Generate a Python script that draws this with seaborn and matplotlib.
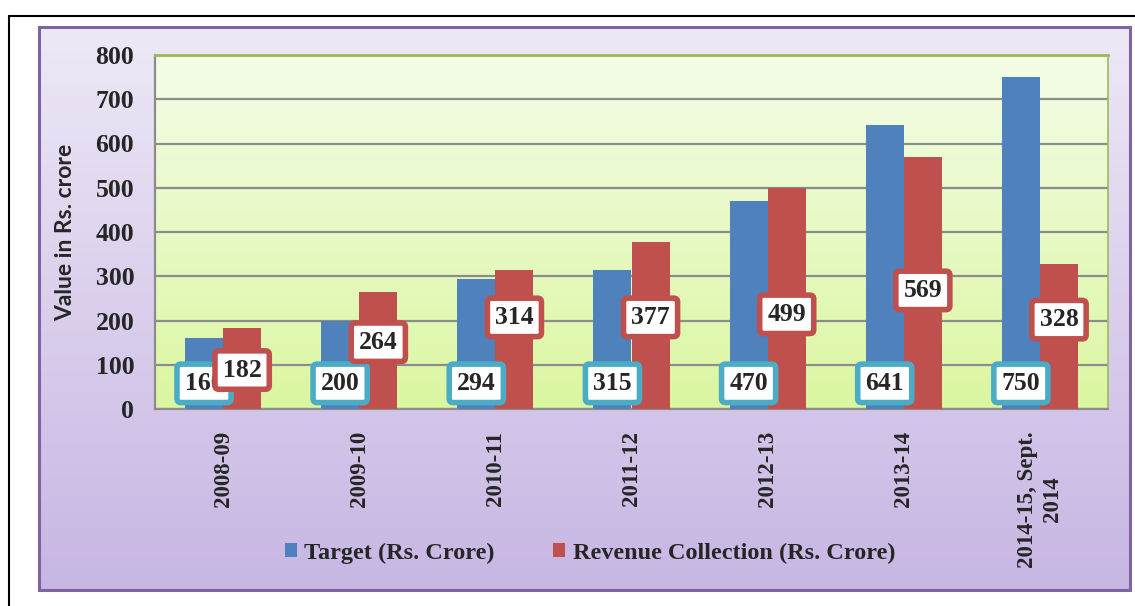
import numpy as np
import pandas as pd
import seaborn as sns
import matplotlib.pyplot as plt
from matplotlib.lines import Line2D
from matplotlib.patches import Rectangle, Patch

# data
years = ['2008-09', '2009-10', '2010-11', '2011-12', '2012-13', '2013-14',
         '2014-15, Sept.\n2014']
target = [160, 200, 294, 315, 470, 641, 750]
revenue = [182, 264, 314, 377, 499, 569, 328]
series = ['Target (Rs. Crore)', 'Revenue Collection (Rs. Crore)']

# where the value boxes sit (data units), as placed in the original
target_lbl_y = [58] * 7
revenue_lbl_y = [88, 151, 207, 207, 214, 268, 202]

blue = '#4F81BD'
red = '#C0504D'
cyan = '#4BACC6'

df = pd.DataFrame({
    'year': years * 2,
    'value': target + revenue,
    'series': [series[0]] * 7 + [series[1]] * 7,
})

sns.set_style('white')
plt.rcParams['font.family'] = ['Liberation Serif', 'DejaVu Serif']

W, H = 1135, 606
fig = plt.figure(figsize=(W / 100, H / 100), dpi=100)
fig.patch.set_facecolor('white')

def box(l, t, r, b):
    return [l / W, 1 - b / H, (r - l) / W, (b - t) / H]

# outer page frame (top and left visible)
fig.add_artist(Line2D([9 / W, 1], [1 - 16 / H] * 2, color='black', lw=1.5))
fig.add_artist(Line2D([9 / W] * 2, [0, 1 - 16 / H], color='black', lw=1.5))

# lavender chart area with vertical gradient
bg = fig.add_axes(box(39, 27, 1130, 590))
grad = np.linspace(0, 1, 256).reshape(-1, 1)
lav = np.array([[0.933, 0.910, 0.965], [0.780, 0.714, 0.890]])
img = lav[0] + (lav[1] - lav[0]) * grad[:, :, None]
bg.imshow(img, aspect='auto', extent=[0, 1, 0, 1])
bg.set_xlim(0, 1)
bg.set_ylim(0, 1)
bg.axis('off')
fig.add_artist(Rectangle((39 / W, 1 - 590 / H), 1091 / W, 563 / H, fill=False,
                         edgecolor='#8064A2', lw=2.2))

# plot area gradient (light top -> yellow-green bottom)
pb = fig.add_axes(box(155, 55, 1108, 409))
grn = np.array([[0.957, 0.992, 0.910], [0.859, 0.965, 0.631]])
img2 = grn[0] + (grn[1] - grn[0]) * grad[:, :, None]
pb.imshow(img2, aspect='auto', extent=[0, 1, 0, 1])
pb.set_xlim(0, 1)
pb.set_ylim(0, 1)
pb.axis('off')

ax = fig.add_axes(box(155, 55, 1108, 409))
ax.patch.set_alpha(0)

sns.barplot(data=df, x='year', y='value', hue='series', palette=[blue, red],
            width=0.56, saturation=1, ax=ax, legend=False, zorder=3,
            linewidth=0)

ax.set_ylim(0, 800)
ax.set_xlim(-0.5, 6.5)
ax.set_yticks(range(0, 801, 100))
ax.yaxis.grid(True, color='#8C8C8C', lw=1.6, zorder=1)
ax.set_axisbelow(True)

for s in ['left', 'bottom']:
    ax.spines[s].set_color('#8C8C8C')
    ax.spines[s].set_linewidth(1.6)
ax.spines['top'].set_color('#9BBB59')
ax.spines['top'].set_linewidth(2)
ax.spines['right'].set_color('#9BBB59')
ax.spines['right'].set_linewidth(1.2)

ax.tick_params(axis='y', length=7, width=1.6, color='#8C8C8C', pad=8,
               labelsize=18.5)
for t in ax.get_yticklabels():
    t.set_fontweight('bold')

ax.set_xticks(range(7))
ax.set_xticks(np.arange(-0.5, 7, 1), minor=True)
ax.tick_params(axis='x', which='major', length=0, pad=16)
ax.tick_params(axis='x', which='minor', length=7, width=1.6, color='#8C8C8C')
ax.set_xticklabels(years, rotation=90, fontsize=16.5, fontweight='bold',
                   ha='center', va='top', multialignment='center')

ax.set_xlabel('')
ax.set_ylabel('Value in Rs. crore', family='Lato', fontweight='bold',
              fontsize=16.5, labelpad=14)

# value boxes
off = 0.14
for i in range(7):
    ax.text(i - off, target_lbl_y[i], str(target[i]), ha='center', va='center',
            fontsize=18.5, fontweight='bold', zorder=6,
            bbox=dict(boxstyle='round,pad=0.3,rounding_size=0.15', fc='white',
                      ec=cyan, lw=4))
    ax.text(i + off, revenue_lbl_y[i], str(revenue[i]), ha='center',
            va='center', fontsize=18.5, fontweight='bold', zorder=6,
            bbox=dict(boxstyle='round,pad=0.3,rounding_size=0.15', fc='white',
                      ec=red, lw=4))

handles = [Patch(facecolor=blue, edgecolor='none'),
           Patch(facecolor=red, edgecolor='none')]
leg = fig.legend(handles, series, loc='center', bbox_to_anchor=(590 / W, 1 - 553 / H),
                 ncol=2, frameon=False, prop={'weight': 'bold', 'size': 17.5},
                 handlelength=0.5, handleheight=0.5, handletextpad=0.3,
                 columnspacing=2.4)

fig.savefig('out.png', dpi=100)
